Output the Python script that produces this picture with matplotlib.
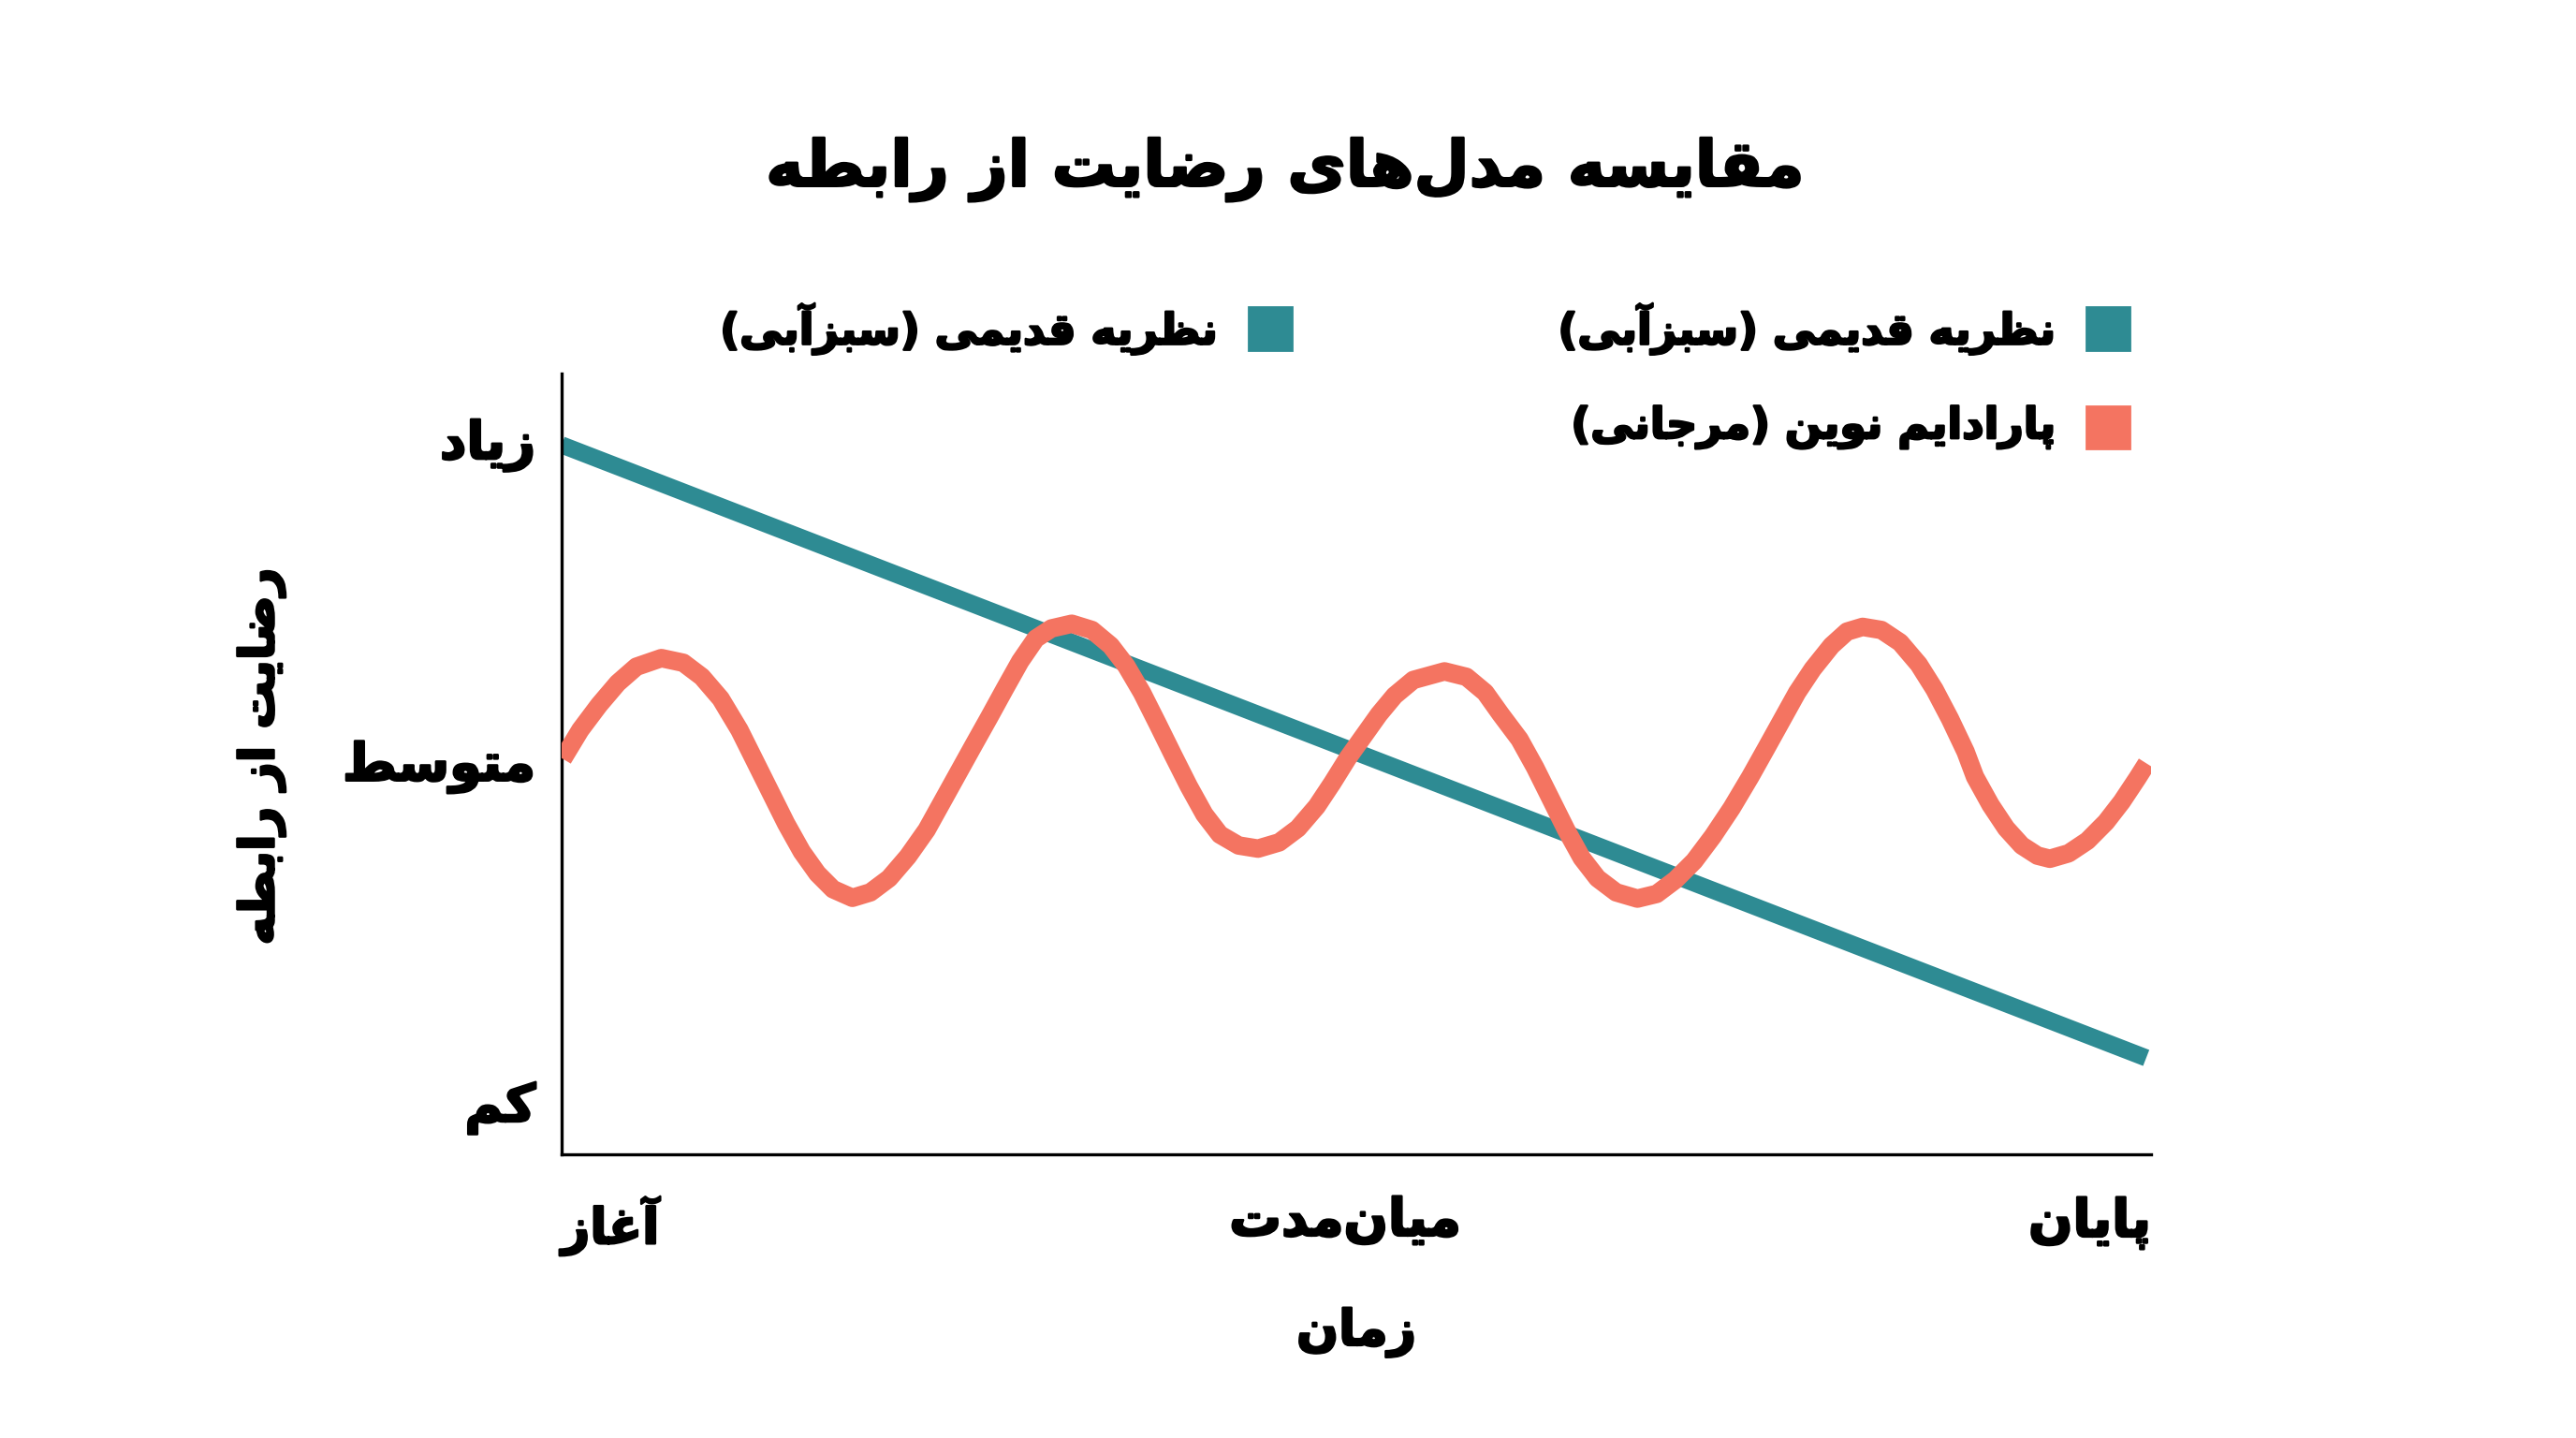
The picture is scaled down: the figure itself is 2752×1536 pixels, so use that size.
import matplotlib
matplotlib.use("Agg")
import matplotlib.pyplot as plt
import matplotlib.patheffects as pe
from matplotlib.patches import Rectangle

plt.rcParams['font.family'] = ['DejaVu Sans']

# --- persian shaping (matplotlib 3.10 has no complex text layout) ---
FORMS = {
    '\u0622': ('\uFE81', '\uFE82'),
    '\u0627': ('\uFE8D', '\uFE8E'),
    '\u0628': ('\uFE8F', '\uFE90', '\uFE91', '\uFE92'),
    '\u067E': ('\uFB56', '\uFB57', '\uFB58', '\uFB59'),
    '\u062A': ('\uFE95', '\uFE96', '\uFE97', '\uFE98'),
    '\u062C': ('\uFE9D', '\uFE9E', '\uFE9F', '\uFEA0'),
    '\u062F': ('\uFEA9', '\uFEAA'),
    '\u0631': ('\uFEAD', '\uFEAE'),
    '\u0632': ('\uFEAF', '\uFEB0'),
    '\u0633': ('\uFEB1', '\uFEB2', '\uFEB3', '\uFEB4'),
    '\u0636': ('\uFEBD', '\uFEBE', '\uFEBF', '\uFEC0'),
    '\u0637': ('\uFEC1', '\uFEC2', '\uFEC3', '\uFEC4'),
    '\u0638': ('\uFEC5', '\uFEC6', '\uFEC7', '\uFEC8'),
    '\u063A': ('\uFECD', '\uFECE', '\uFECF', '\uFED0'),
    '\u0642': ('\uFED5', '\uFED6', '\uFED7', '\uFED8'),
    '\u06A9': ('\uFB8E', '\uFB8F', '\uFB90', '\uFB91'),
    '\u0644': ('\uFEDD', '\uFEDE', '\uFEDF', '\uFEE0'),
    '\u0645': ('\uFEE1', '\uFEE2', '\uFEE3', '\uFEE4'),
    '\u0646': ('\uFEE5', '\uFEE6', '\uFEE7', '\uFEE8'),
    '\u0647': ('\uFEE9', '\uFEEA', '\uFEEB', '\uFEEC'),
    '\u0648': ('\uFEED', '\uFEEE'),
    '\u06CC': ('\uFBFC', '\uFBFD', '\uFBFE', '\uFBFF'),
}
MIRROR = {'(': ')', ')': '('}


def fa(text):
    out = []
    n = len(text)
    for i, ch in enumerate(text):
        f = FORMS.get(ch)
        if f is None:
            out.append(ch)
            continue
        prev = text[i - 1] if i > 0 else ''
        nxt = text[i + 1] if i < n - 1 else ''
        join_prev = prev in FORMS and len(FORMS[prev]) == 4
        join_next = len(f) == 4 and nxt in FORMS
        if join_prev and join_next:
            out.append(f[3])
        elif join_prev:
            out.append(f[1])
        elif join_next:
            out.append(f[2])
        else:
            out.append(f[0])
    vis = ''.join(MIRROR.get(c, c) for c in reversed(out))
    return vis.replace('\u200c', '')


# --- data ---
title = 'مقایسه مدل‌های رضایت از رابطه'
x_label = 'زمان'
y_label = 'رضایت از رابطه'
x_ticks = [0, 4.93, 10]
x_tick_labels = ['آغاز', 'میان‌مدت', 'پایان']
y_ticks = [0.68, 5.05, 9.17]
y_tick_labels = ['کم', 'متوسط', 'زیاد']
legend_old = 'نظریه قدیمی (سبزآبی)'
legend_new = 'پارادایم نوین (مرجانی)'

# old theory: steady decline
old_x = [0.0, 9.97]
old_y = [9.09, 1.24]

# new paradigm: ups and downs around the middle
new_x = [0.008, 0.118, 0.236, 0.353, 0.471, 0.628, 0.766, 0.883, 1.001, 1.119,
         1.217, 1.315, 1.413, 1.512, 1.610, 1.708, 1.830, 1.943, 2.061, 2.179,
         2.297, 2.395, 2.493, 2.591, 2.690, 2.787, 2.886, 2.984, 3.082, 3.210,
         3.337, 3.455, 3.553, 3.651, 3.750, 3.847, 3.946, 4.044, 4.142, 4.260,
         4.382, 4.515, 4.633, 4.751, 4.849, 4.947, 5.045, 5.143, 5.241, 5.359,
         5.555, 5.693, 5.811, 5.909, 6.027, 6.125, 6.223, 6.321, 6.419, 6.518,
         6.635, 6.769, 6.890, 7.008, 7.126, 7.244, 7.362, 7.479, 7.578, 7.676,
         7.774, 7.872, 7.990, 8.088, 8.186, 8.304, 8.422, 8.539, 8.638, 8.736,
         8.834, 8.893, 8.991, 9.089, 9.187, 9.286, 9.364, 9.482, 9.600, 9.717,
         9.816, 9.914, 9.973]
new_y = [5.07, 5.44, 5.76, 6.04, 6.25, 6.36, 6.30, 6.12, 5.84, 5.44,
         5.04, 4.64, 4.24, 3.88, 3.60, 3.40, 3.29, 3.36, 3.54, 3.82,
         4.16, 4.52, 4.88, 5.24, 5.60, 5.96, 6.32, 6.61, 6.74, 6.80,
         6.72, 6.52, 6.26, 5.92, 5.52, 5.12, 4.72, 4.36, 4.10, 3.96,
         3.92, 4.00, 4.18, 4.46, 4.76, 5.08, 5.36, 5.64, 5.88, 6.08,
         6.19, 6.12, 5.92, 5.64, 5.32, 4.96, 4.56, 4.16, 3.80, 3.54,
         3.36, 3.28, 3.34, 3.52, 3.76, 4.08, 4.44, 4.84, 5.20, 5.56,
         5.92, 6.22, 6.52, 6.70, 6.76, 6.72, 6.56, 6.28, 5.96, 5.58,
         5.16, 4.84, 4.48, 4.18, 3.96, 3.83, 3.79, 3.86, 4.02, 4.26,
         4.52, 4.82, 5.01]

teal = '#2E8B93'
coral = '#F47461'

# heavier strokes on the text, the reference font is very bold
heavy = [pe.withStroke(linewidth=0.9, foreground='black')]

fig = plt.figure(figsize=(13.76, 7.68), dpi=200)
ax = fig.add_axes([0.218, 0.197, 0.617, 0.543])

ax.plot(old_x, old_y, color=teal, lw=6.6, solid_capstyle='butt', zorder=2)
ax.plot(new_x, new_y, color=coral, lw=7.1, solid_capstyle='butt',
        solid_joinstyle='round', zorder=3)

ax.set_xlim(0, 10)
ax.set_ylim(0, 10)
for s in ['top', 'right']:
    ax.spines[s].set_visible(False)
for s in ['left', 'bottom']:
    ax.spines[s].set_linewidth(1.2)

ax.set_xticks(x_ticks)
ax.set_xticklabels([fa(t) for t in x_tick_labels], fontsize=20, fontweight='bold')
ax.set_yticks(y_ticks)
ax.set_yticklabels([fa(t) for t in y_tick_labels], fontsize=20, fontweight='bold')
ax.tick_params(length=0)
ax.tick_params(axis='x', pad=16)
ax.tick_params(axis='y', pad=10)
xl = ax.get_xticklabels()
xl[0].set_ha('left')
xl[0].set_fontsize(19)
xl[-1].set_ha('right')
for t in ax.get_xticklabels() + ax.get_yticklabels():
    t.set_path_effects(heavy)

ax.set_xlabel(fa(x_label), fontsize=19, fontweight='bold', labelpad=20,
              path_effects=heavy)
ax.set_ylabel(fa(y_label), fontsize=18.5, fontweight='bold',
              path_effects=heavy)
ax.yaxis.set_label_coords(-0.174, 0.51)

fig.text(0.4987, 0.882, fa(title), fontsize=24.5, fontweight='bold',
         ha='center', va='center', path_effects=heavy)

# legend, drawn right-to-left as in the reference
sq_w, sq_h = 0.0166, 0.0297
for (sx, ty, label, col) in [(0.4847, 0.7714, legend_old, teal),
                             (0.8100, 0.7714, legend_old, teal),
                             (0.8100, 0.7029, legend_new, coral)]:
    fig.add_artist(Rectangle((sx, ty - sq_h / 2), sq_w, sq_h,
                             transform=fig.transFigure, color=col))
    fig.text(sx - 0.0115, ty, fa(label), fontsize=16.5, fontweight='bold',
             ha='right', va='center', path_effects=heavy)

fig.savefig('out.png', dpi=200, facecolor='white')
